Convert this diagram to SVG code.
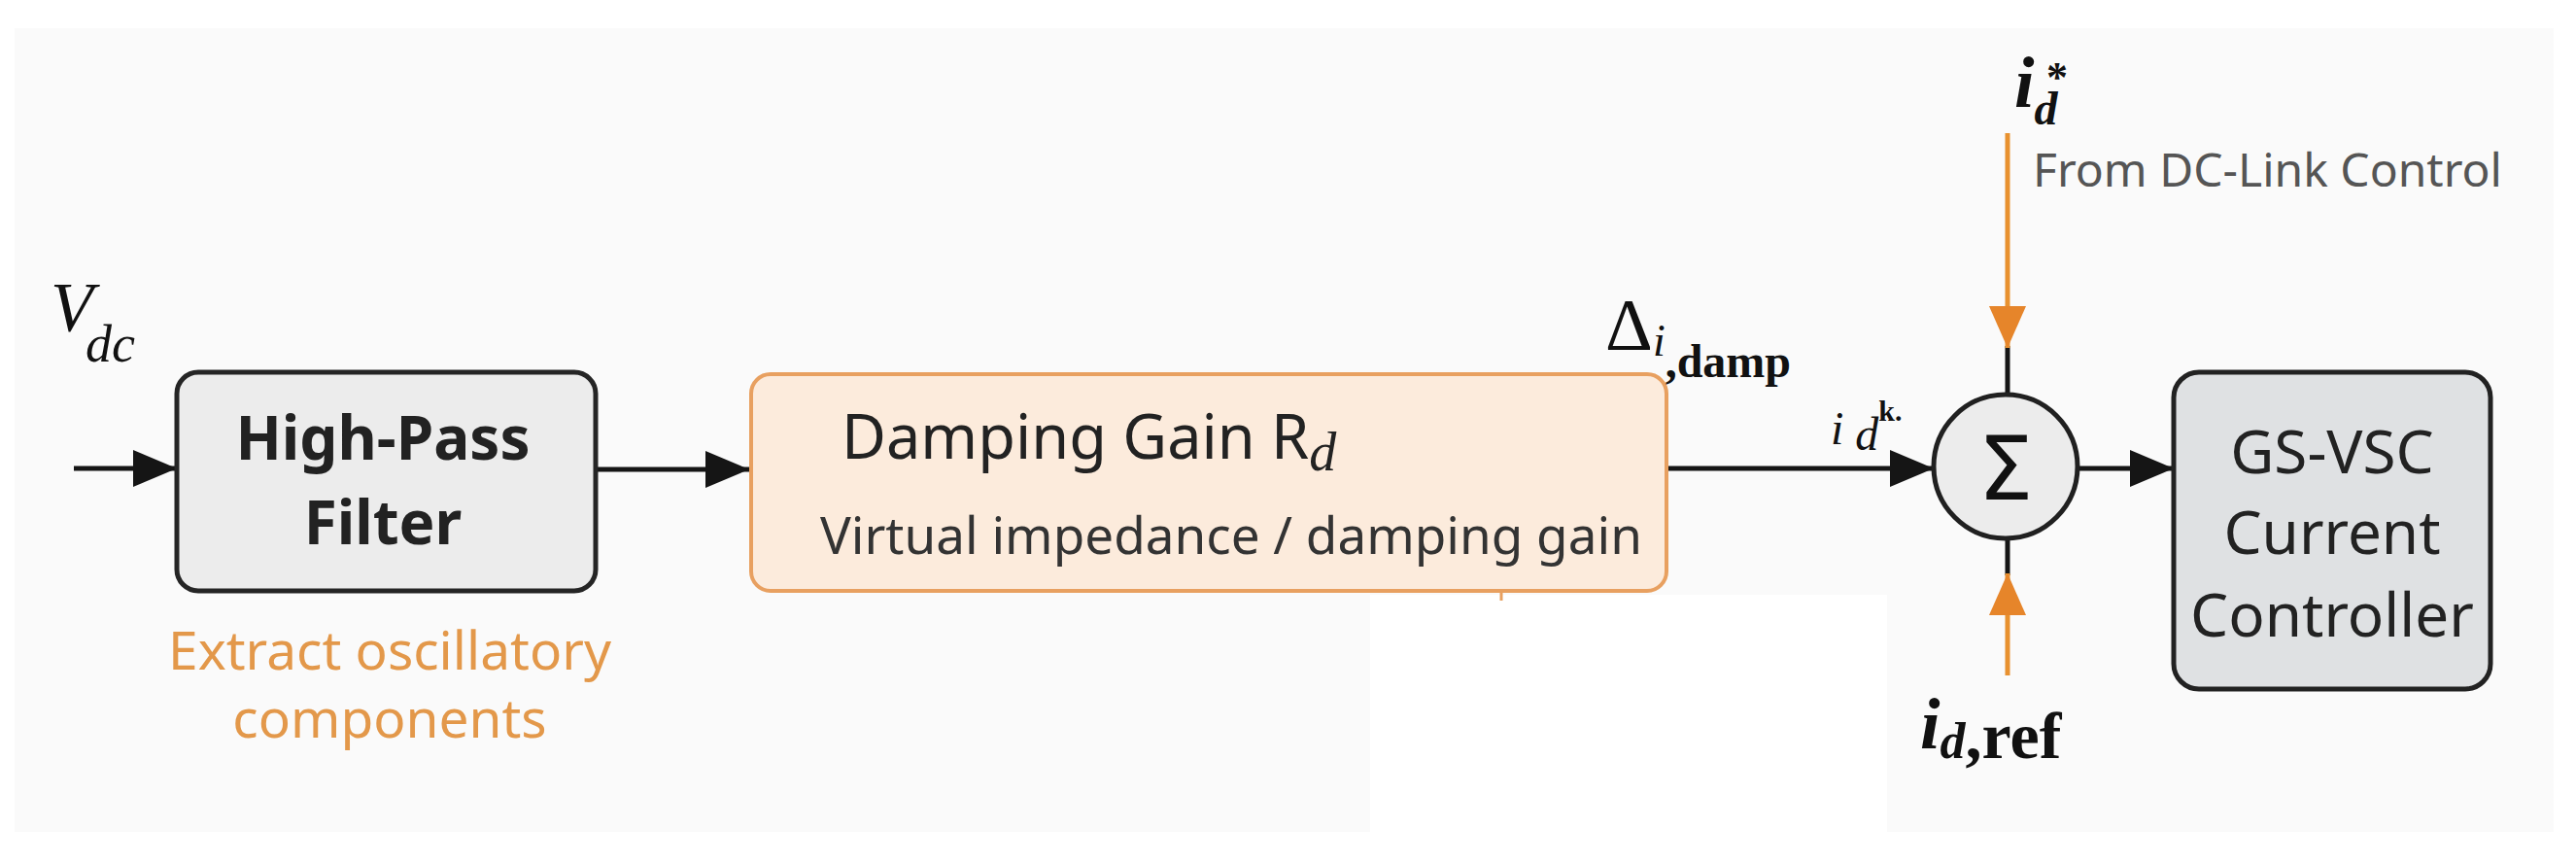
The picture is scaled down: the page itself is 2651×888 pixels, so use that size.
<svg xmlns="http://www.w3.org/2000/svg" width="2651" height="888" viewBox="0 0 2651 888">
<style>
.box-text{font-family:"Noto Sans","Open Sans",sans-serif;fill:#222;text-anchor:middle}
.math{font-family:"Liberation Serif","Times New Roman",serif;fill:#111}
.line{stroke:#151515;stroke-width:5;fill:none}
.oline{stroke:#E8912F;stroke-width:5;fill:none}
</style>
<defs>
<marker id="ah" markerUnits="userSpaceOnUse" markerWidth="46" markerHeight="40" refX="45" refY="19" orient="auto">
<path d="M0,0 L45,19 L0,38 z" fill="#151515"/>
</marker>
<marker id="ahO" markerUnits="userSpaceOnUse" markerWidth="46" markerHeight="40" refX="43" refY="19" orient="auto">
<path d="M0,0 L43,19 L0,38 z" fill="#E6852A"/>
</marker>
</defs>
<rect x="0" y="0" width="2651" height="888" fill="#ffffff"/>
<rect x="15" y="29" width="2613" height="827" fill="#fafafa"/>
<rect x="1410" y="612" width="532" height="276" fill="#ffffff"/>

<g id="connectors">
<line class="line" x1="76" y1="482" x2="182" y2="482" marker-end="url(#ah)"/>
<line class="line" x1="613" y1="483" x2="771" y2="483" marker-end="url(#ah)"/>
<line class="line" x1="1715" y1="482" x2="1990" y2="482" marker-end="url(#ah)"/>
<line class="line" x1="2138" y1="482" x2="2237" y2="482" marker-end="url(#ah)"/>
<line class="line" x1="2066" y1="356" x2="2066" y2="406"/>
<line class="oline" x1="2066" y1="137" x2="2066" y2="358" marker-end="url(#ahO)"/>
<line class="line" x1="2066" y1="554" x2="2066" y2="592"/>
<line class="oline" x1="2066" y1="695" x2="2066" y2="590" marker-end="url(#ahO)"/>
<line x1="1545" y1="608" x2="1545" y2="618" stroke="#E8A060" stroke-width="3"/>
</g>

<g id="vdc-label">
<text class="math" x="52" y="340" font-size="72" font-style="italic">V<tspan font-size="54" dy="32" dx="-8">dc</tspan></text>
</g>

<g id="hpf">
<rect x="182" y="383" width="431" height="225" rx="22" fill="#ececec" stroke="#252525" stroke-width="5"/>
<text class="box-text" x="394" y="473" font-size="62" font-weight="700">High-Pass</text>
<text class="box-text" x="394" y="560" font-size="62" font-weight="700">Filter</text>
<text x="401" y="689" font-family="'Noto Sans','Open Sans',sans-serif" font-size="55" fill="#E3984A" text-anchor="middle">Extract oscillatory</text>
<text x="401" y="759" font-family="'Noto Sans','Open Sans',sans-serif" font-size="55" fill="#E3984A" text-anchor="middle">components</text>
</g>

<g id="damping">
<rect x="773" y="385" width="942" height="223" rx="20" fill="#fcebdc" stroke="#E8A060" stroke-width="4"/>
<text x="866" y="472" font-family="'Noto Sans','Open Sans',sans-serif" font-size="63" fill="#222">Damping Gain R<tspan font-family="'Liberation Serif',serif" font-style="italic" font-size="56" dy="12">d</tspan></text>
<text x="844" y="570" font-family="'Noto Sans','Open Sans',sans-serif" font-size="53" fill="#333">Virtual impedance / damping gain</text>
</g>

<g id="delta-label">
<text class="math" x="1652" y="360" font-size="76">Δ<tspan font-size="46" font-style="italic" dy="6">i</tspan><tspan font-size="48" font-weight="700" dy="22">,damp</tspan></text>
</g>

<g id="idk-label">
<text class="math" x="1884" y="457" font-size="48" font-style="italic">i <tspan dy="6">d</tspan><tspan font-size="30" font-style="normal" font-weight="700" dy="-30">k.</tspan></text>
</g>

<g id="sum">
<circle cx="2064" cy="480" r="74" fill="#ececec" stroke="#202020" stroke-width="5"/>
<text x="2064" y="514" font-family="'DejaVu Sans',sans-serif" font-size="90" fill="#111" text-anchor="middle">Σ</text>
</g>

<g id="idstar-label">
<text class="math" x="2073" y="110" font-size="74" font-style="italic" font-weight="700">i<tspan font-size="48" dy="18">d</tspan><tspan font-size="44" font-style="normal" x="2106" y="94">*</tspan></text>
<text x="2092" y="192" font-family="'Noto Sans','Open Sans',sans-serif" font-size="48" fill="#555">From DC-Link Control</text>
</g>

<g id="idref-label">
<text class="math" x="1976" y="770" font-size="74" font-style="italic" font-weight="700">i<tspan font-size="52" dy="10">d</tspan><tspan font-size="68" font-style="normal">,ref</tspan></text>
</g>

<g id="gsvsc">
<rect x="2237" y="383" width="326" height="326" rx="26" fill="#dfe1e3" stroke="#222" stroke-width="5"/>
<text class="box-text" x="2400" y="487" font-size="62">GS-VSC</text>
<text class="box-text" x="2400" y="570" font-size="62">Current</text>
<text class="box-text" x="2400" y="655" font-size="62">Controller</text>
</g>
</svg>
